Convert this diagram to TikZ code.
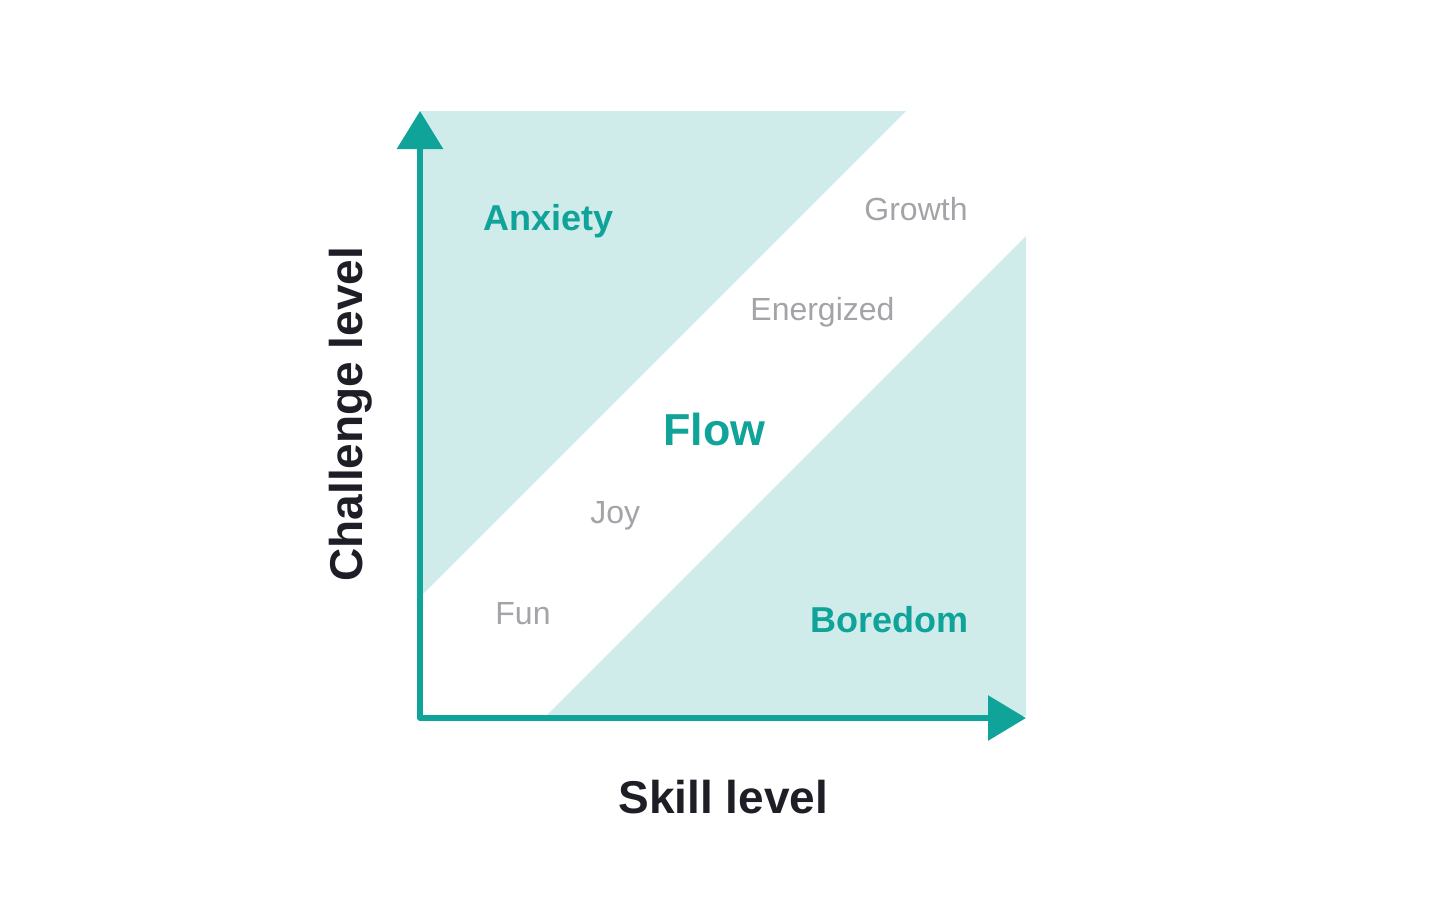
\documentclass[tikz,border=0pt]{standalone}
\usepackage{fontspec}
\setmainfont{Liberation Sans}
\usetikzlibrary{arrows.meta}
\definecolor{flowteal}{HTML}{0FA39A}
\definecolor{flowlight}{HTML}{CFECEB}
\definecolor{flowgray}{HTML}{A3A3A8}
\definecolor{flowdark}{HTML}{1E1E27}
\tikzset{
  zone/.style={fill=flowlight},
  big/.style={font=\bfseries\fontsize{18}{21}\selectfont,text=flowteal,inner sep=0pt,anchor=base west},
  small/.style={font=\fontsize{16}{19}\selectfont,text=flowgray,inner sep=0pt,anchor=base west},
  axislabel/.style={font=\bfseries\fontsize{23}{27}\selectfont,text=flowdark,inner sep=0pt,anchor=base west},
}
\begin{document}
\begin{tikzpicture}[x=0.5pt,y=-0.5pt]
      \useasboundingbox (0,0) rectangle (1456,910) ;
      \fill[zone] (420,111) -- (906,111) -- (420,597) -- cycle ;
      \fill[zone] (546,716) -- (1026,236) -- (1026,716) -- cycle ;
      \coordinate (O) at (420,718) ;
      \coordinate (Ytip) at (420,111) ;
      \coordinate (Xtip) at (1026,718) ;
      \draw[flowteal,line width=3pt,line join=round,%
        {Triangle[length=19pt,width=22.5pt]}-{Triangle[length=19pt,width=22pt]}] %
        (Ytip) -- (O) -- (Xtip) ;
      \node[big] (anxiety) at (483,230) {Anxiety} ;
      \node[big,font=\bfseries\fontsize{22.4}{26}\selectfont] (flow) at (663,445) {Flow} ;
      \node[big] (boredom) at (810,632) {Boredom} ;
      \node[small] (growth) at (864,220) {Growth} ;
      \node[small] (energized) at (750,320) {Energized} ;
      \node[small] (joy) at (590,523) {Joy} ;
      \node[small] (fun) at (495,624) {Fun} ;
      \node[axislabel] (skill) at (618,813) {Skill level} ;
      \node[axislabel,rotate=90] (challenge) at (362,582) {Challenge level} ;
    \end{tikzpicture}
\end{document}
